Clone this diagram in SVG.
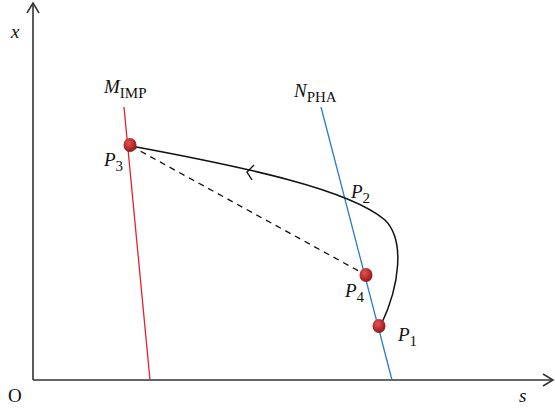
<svg xmlns="http://www.w3.org/2000/svg" width="555" height="409" viewBox="0 0 555 409">
<style>
.lbl{font-family:"Liberation Serif","DejaVu Serif",serif;font-style:italic;font-size:19px;fill:#111}
.sub{font-family:"Liberation Serif","DejaVu Serif",serif;font-style:normal;font-size:15px;fill:#111}
.ax{stroke:#333;stroke-width:1.6;fill:none}
</style>
<defs>
<radialGradient id="ball" cx="0.4" cy="0.35" r="0.7">
<stop offset="0" stop-color="#d85858"/>
<stop offset="0.6" stop-color="#b82828"/>
<stop offset="1" stop-color="#861616"/>
</radialGradient>
<marker id="arr" markerWidth="14" markerHeight="14" refX="12" refY="7" orient="auto" markerUnits="userSpaceOnUse">
<path d="M2,1 L12,7 L2,13" fill="none" stroke="#333" stroke-width="1.5"/>
</marker>
</defs>
<g id="axes">
<line class="ax" x1="33" y1="380" x2="33" y2="3" marker-end="url(#arr)"/>
<line class="ax" x1="33" y1="380" x2="553" y2="380" marker-end="url(#arr)"/>
</g>
<g id="connectors">
<line id="M_line" x1="124" y1="107" x2="150" y2="380" stroke="#e8202a" stroke-width="1.3"/>
<line id="N_line" x1="321" y1="107" x2="392" y2="380" stroke="#2a7ad0" stroke-width="1.3"/>
<line x1="131" y1="146" x2="366" y2="275" stroke="#111" stroke-width="1.3" stroke-dasharray="6,5"/>
<path d="M131,146 C250,168 350,190 385,220 C405,240 400,285 381,325" fill="none" stroke="#111" stroke-width="1.5"/>
<path d="M254,165 L247,172 L252,180" fill="none" stroke="#111" stroke-width="1.4"/>
</g>
<g id="P3"><ellipse cx="130" cy="145" rx="6.5" ry="7" fill="url(#ball)"/></g>
<g id="P4"><ellipse cx="366" cy="275" rx="6.5" ry="7" fill="url(#ball)"/></g>
<g id="P1"><ellipse cx="379" cy="326" rx="6.5" ry="7" fill="url(#ball)"/></g>
<g id="labels">
<text class="lbl" x="11" y="38">x</text>
<text class="lbl" x="8" y="402" style="font-style:normal">O</text>
<text class="lbl" x="519" y="402">s</text>
<text class="lbl" x="104" y="93">M<tspan class="sub" dy="5">IMP</tspan></text>
<text class="lbl" x="294" y="97">N<tspan class="sub" dy="5">PHA</tspan></text>
<text class="lbl" x="104" y="166">P<tspan class="sub" dy="5">3</tspan></text>
<text class="lbl" x="351" y="198">P<tspan class="sub" dy="5">2</tspan></text>
<text class="lbl" x="345" y="297">P<tspan class="sub" dy="5">4</tspan></text>
<text class="lbl" x="398" y="341">P<tspan class="sub" dy="5">1</tspan></text>
</g>
</svg>
